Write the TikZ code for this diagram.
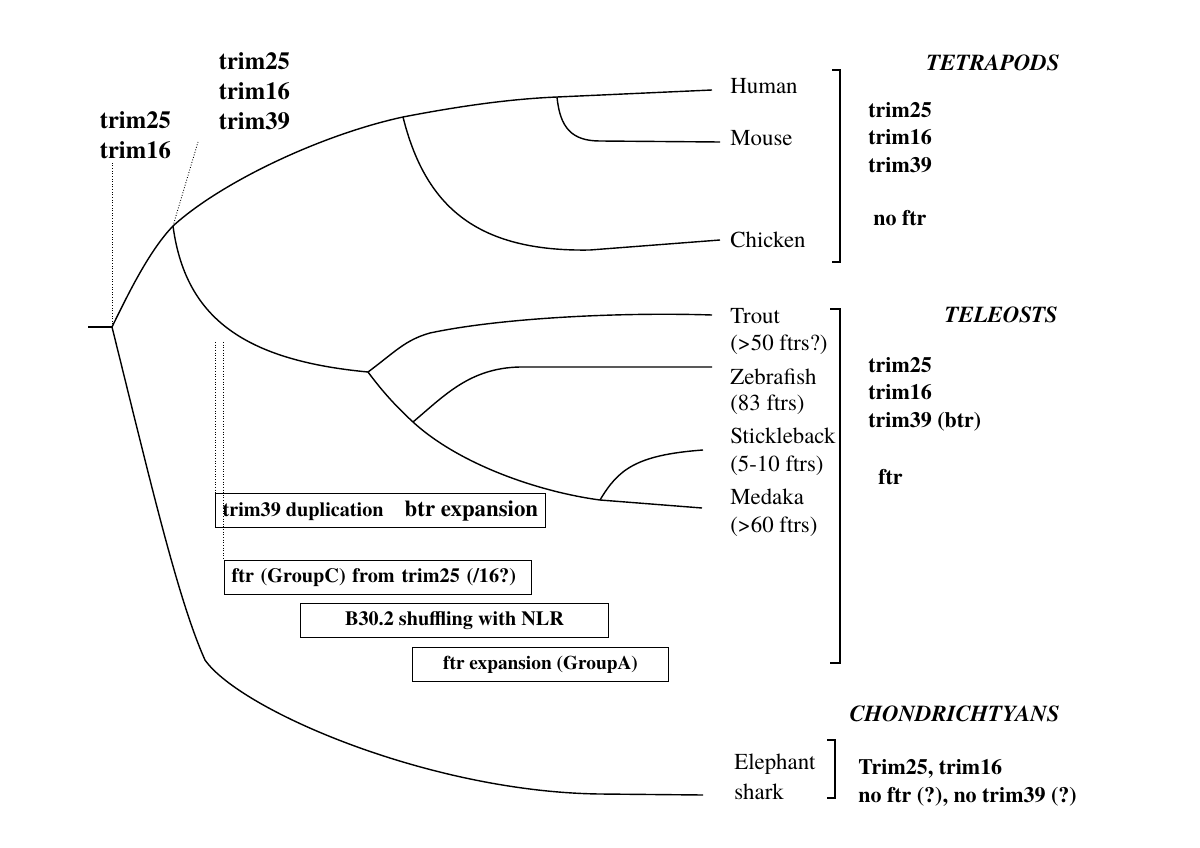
\documentclass[tikz,border=0pt]{standalone}
\usepackage{fontspec}
\setmainfont{TeX Gyre Termes}
\usepackage{tikz}

\begin{document}
\begin{tikzpicture}[x=0.02cm,y=-0.02cm,
  branch/.style={line width=0.8pt},
  hint/.style={densely dotted,line width=0.5pt},
  bracket/.style={line width=0.8pt},
  taxon/.style={anchor=west,inner sep=0pt,font=\fontsize{13}{15}\selectfont},
  gene/.style={anchor=west,align=left,inner sep=0pt,font=\fontsize{12.5}{15.6}\selectfont\bfseries},
  toplab/.style={anchor=west,align=left,inner sep=2pt,font=\fontsize{14}{17}\selectfont\bfseries},
  group/.style={anchor=east,inner sep=0pt,font=\fontsize{13}{15}\selectfont\bfseries\itshape},
  event/.style={draw,line width=0.6pt,anchor=north west,minimum height=0.68cm,inner xsep=4pt,
    font=\fontsize{11.5}{13}\selectfont\bfseries}]
\useasboundingbox (0,0) rectangle (1200,848);

\coordinate (stub) at (88,327);
\coordinate (root) at (112,327);
\coordinate (osteo) at (173,226);
\coordinate (osteotop) at (198,142);
\coordinate (amniote) at (403,117);
\coordinate (mammal) at (557,97);
\coordinate (teleo) at (368,372);
\coordinate (otocl) at (413,422);
\coordinate (acanth) at (600,500);
\coordinate (hu) at (712,90);
\coordinate (mo) at (720,142);
\coordinate (ch) at (720,240);
\coordinate (tr) at (712,315);
\coordinate (ze) at (712,367);
\coordinate (st) at (703,450);
\coordinate (me) at (702,508);
\coordinate (sh) at (703,795);
\coordinate (m1) at (215,342);
\coordinate (m2) at (223,342);

\node[toplab] (lab1) at (96,135) {trim25\\trim16};
\node[toplab] (lab2) at (215,91) {trim25\\trim16\\trim39};

\draw[branch] (stub) -- (root);
\draw[branch] (root) .. controls (130,290) and (150,250) .. (osteo);
\draw[branch] (osteo) .. controls (220,183) and (320,135) .. (amniote)
  .. controls (460,106) and (510,99) .. (mammal) -- (hu);
\draw[branch] (mammal) .. controls (560,128) and (572,141) .. (600,141) -- (mo);
\draw[branch] (amniote) .. controls (425,205) and (475,252) .. (590,250) -- (ch);
\draw[branch] (osteo) .. controls (185,315) and (240,360) .. (teleo);
\draw[branch] (teleo) .. controls (395,352) and (405,340) .. (430,333)
  .. controls (500,318) and (620,312) .. (tr);
\draw[branch] (teleo) .. controls (385,395) and (400,410) .. (otocl)
  .. controls (460,465) and (540,492) .. (acanth) -- (me);
\draw[branch] (otocl) .. controls (445,395) and (470,368) .. (520,367) -- (ze);
\draw[branch] (acanth) .. controls (618,470) and (635,455) .. (st);
\draw[branch] (root) .. controls (150,480) and (178,600) .. (205,660)
  .. controls (240,710) and (430,792) .. (600,794) -- (sh);

\draw[hint] (root) -- (root |- lab1.south);
\draw[hint] (osteo) -- (osteotop);

\node[taxon] (human) at (730,86) {Human};
\node[taxon] (mouse) at (730,138) {Mouse};
\node[taxon] (chicken) at (730,240) {Chicken};
\node[taxon] (trout) at (730,316) {Trout};
\node[taxon] (troutn) at (730,345) {(>50 ftrs?)};
\node[taxon] (zebra) at (730,377) {Zebrafish};
\node[taxon] (zebran) at (730,405) {(83 ftrs)};
\node[taxon] (stickle) at (730,436) {Stickleback};
\node[taxon] (sticklen) at (730,466) {(5-10 ftrs)};
\node[taxon] (medaka) at (730,497) {Medaka};
\node[taxon] (medakan) at (730,527) {(>60 ftrs)};
\node[taxon] (eleph) at (734,764) {Elephant};
\node[taxon] (shark) at (734,792) {shark};

\draw[bracket] (832,70) -| (840,262) -- (832,262);
\draw[bracket] (830,309) -| (840,663) -- (830,663);
\draw[bracket] (827,740) -| (835,798) -- (827,798);

\node[group] (tetra) at (1060,63) {TETRAPODS};
\node[group] (teleost) at (1058,315) {TELEOSTS};
\node[group] (chondr) at (1060,714) {CHONDRICHTYANS};

\node[gene] (tetgenes) at (868,137.5) {trim25\\trim16\\trim39};
\node[gene] (tetftr) at (873,218) {no ftr};
\node[gene] (telgenes) at (868,394) {trim25\\trim16\\trim39 (btr)};
\node[gene] (telftr) at (878,477) {ftr};
\node[gene] (chgenes) at (858,783) {Trim25, trim16\\no ftr (?), no trim39 (?)};

\node[event,minimum width=6.52cm] (dup) at (215,493)
  {trim39 duplication\hspace{12pt}{\fontsize{13}{15}\selectfont btr expansion}};
\node[event,minimum width=6.14cm,text width=5.86cm,align=left] (ftrc) at (224,560)
  {ftr (GroupC) from trim25 (/16?)};
\node[event,minimum width=6.16cm] (shuffle) at (300,603) {B30.2 shuffling with NLR};
\node[event,minimum width=5.12cm,font=\fontsize{11}{13}\selectfont\bfseries] (ftra) at (412,647)
  {ftr expansion (GroupA)};

\draw[hint] (m1) -- (m1 |- dup.north);
\draw[hint] (m2) -- (m2 |- ftrc.north);
\end{tikzpicture}
\end{document}
